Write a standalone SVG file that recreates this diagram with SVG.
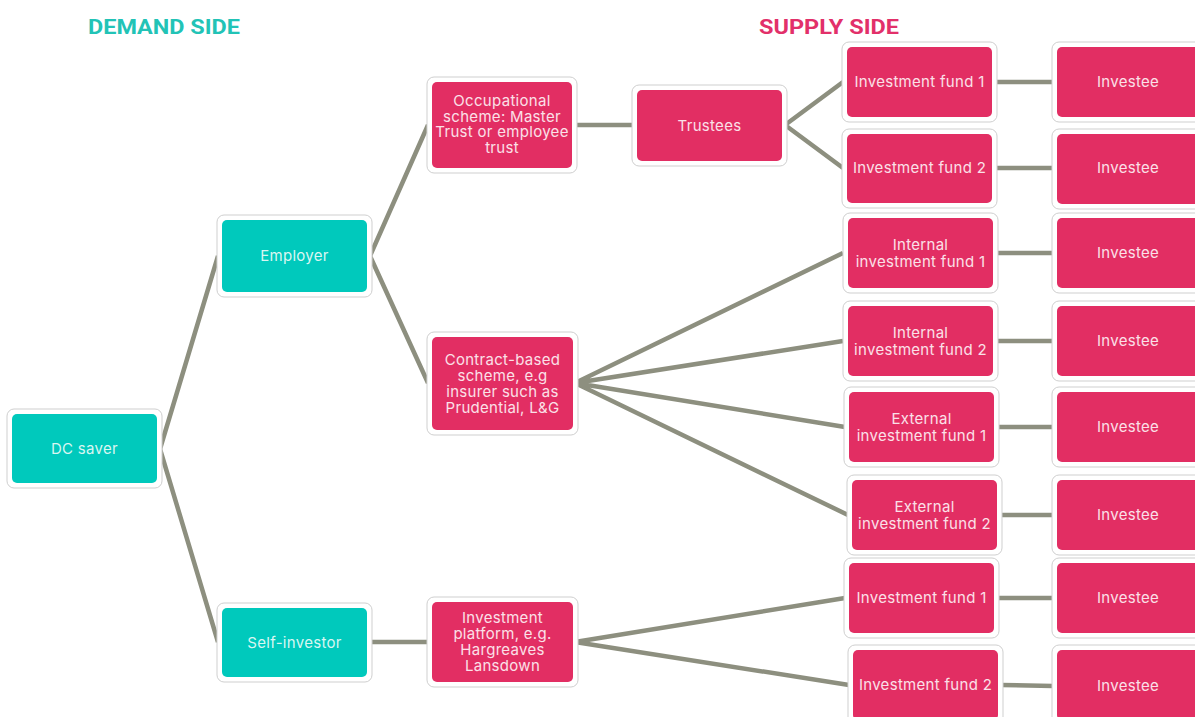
<svg xmlns="http://www.w3.org/2000/svg" width="1195" height="717" viewBox="0 0 1195 717">
<style>
.o{fill:#fff;stroke:#cfcfcf;stroke-width:1}
.t{fill:#00c9bc}
.p{fill:#e22e63}
.lt{font-family:Inter,"Liberation Sans",sans-serif;font-size:15px;letter-spacing:0.3px;fill:#d9f6f2;text-anchor:middle}
.lp{font-family:Inter,"Liberation Sans",sans-serif;font-size:15px;letter-spacing:0.3px;fill:#fbe0e8;text-anchor:middle}
.c{stroke:#8d8f7f;stroke-width:4.5;fill:none;stroke-linecap:butt}
.h{font-family:Roboto,"Liberation Sans",sans-serif;font-weight:bold;font-size:21px}
</style>
<rect width="1195" height="717" fill="#fff"/>
<text class="h" x="88" y="34" fill="#22c3b6" textLength="152" lengthAdjust="spacingAndGlyphs">DEMAND SIDE</text>
<text class="h" x="759" y="34" fill="#e2306a" textLength="140" lengthAdjust="spacingAndGlyphs">SUPPLY SIDE</text>
<g id="connectors">
<path class="c" d="M160 449 L218 256 M160 449 L218 642"/>
<path class="c" d="M370 256 L428 125 M370 256 L428 383"/>
<path class="c" d="M576 125 L634 125"/>
<path class="c" d="M785 125 L843 82 M785 125 L843 168"/>
<path class="c" d="M575 383 L843 253 M575 383 L843 341 M575 383 L845 427 M575 383 L848 515"/>
<path class="c" d="M370 642 L428 642"/>
<path class="c" d="M575 642 L845 598 M575 642 L849 685"/>
<path class="c" d="M995 82 L1053 82 M995 168 L1053 168 M996 253 L1053 253 M996 341 L1053 341 M997 427 L1053 427 M1000 515 L1053 515 M997 598 L1053 598 M1001 685 L1053 686"/>
</g>
<g id="dc-saver"><rect class="o" x="7" y="409" width="155" height="79" rx="7"/><rect class="t" x="12" y="414" width="145" height="69" rx="5"/><text class="lt" x="84.5" y="453.5">DC saver</text></g>
<g id="employer"><rect class="o" x="217" y="215" width="155" height="82" rx="7"/><rect class="t" x="222" y="220" width="145" height="72" rx="5"/><text class="lt" x="294.5" y="261">Employer</text></g>
<g id="self-investor"><rect class="o" x="217" y="603" width="155" height="79" rx="7"/><rect class="t" x="222" y="608" width="145" height="69" rx="5"/><text class="lt" x="294.5" y="647.5">Self-investor</text></g>
<g id="occupational"><rect class="o" x="427" y="77" width="150" height="96" rx="7"/><rect class="p" x="432" y="82" width="140" height="86" rx="5"/><text class="lp" x="502" y="106"><tspan x="502">Occupational</tspan><tspan x="502" dy="15.7">scheme: Master</tspan><tspan x="502" dy="15.7">Trust or employee</tspan><tspan x="502" dy="15.7">trust</tspan></text></g>
<g id="contract"><rect class="o" x="427" y="332" width="151" height="103" rx="7"/><rect class="p" x="432" y="337" width="141" height="93" rx="5"/><text class="lp" x="502.5" y="365"><tspan x="502.5">Contract-based</tspan><tspan x="502.5" dy="16">scheme, e.g</tspan><tspan x="502.5" dy="16">insurer such as</tspan><tspan x="502.5" dy="16">Prudential, L&amp;G</tspan></text></g>
<g id="platform"><rect class="o" x="427" y="597" width="151" height="90" rx="7"/><rect class="p" x="432" y="602" width="141" height="80" rx="5"/><text class="lp" x="502.5" y="623"><tspan x="502.5">Investment</tspan><tspan x="502.5" dy="16">platform, e.g.</tspan><tspan x="502.5" dy="16">Hargreaves</tspan><tspan x="502.5" dy="16">Lansdown</tspan></text></g>
<g id="trustees"><rect class="o" x="632" y="85" width="155" height="81" rx="7"/><rect class="p" x="637" y="90" width="145" height="71" rx="5"/><text class="lp" x="709.5" y="130.5">Trustees</text></g>
<g id="fund-1"><rect class="o" x="842" y="42" width="155" height="80" rx="7"/><rect class="p" x="847" y="47" width="145" height="70" rx="5"/><text class="lp" x="919.5" y="87">Investment fund 1</text></g>
<g id="fund-2"><rect class="o" x="842" y="129" width="155" height="79" rx="7"/><rect class="p" x="847" y="134" width="145" height="69" rx="5"/><text class="lp" x="919.5" y="173">Investment fund 2</text></g>
<g id="internal-1"><rect class="o" x="843" y="213" width="155" height="80" rx="7"/><rect class="p" x="848" y="218" width="145" height="70" rx="5"/><text class="lp" x="920.5" y="250"><tspan x="920.5">Internal</tspan><tspan x="920.5" dy="16.5">investment fund 1</tspan></text></g>
<g id="internal-2"><rect class="o" x="843" y="301" width="155" height="80" rx="7"/><rect class="p" x="848" y="306" width="145" height="70" rx="5"/><text class="lp" x="920.5" y="338"><tspan x="920.5">Internal</tspan><tspan x="920.5" dy="16.5">investment fund 2</tspan></text></g>
<g id="external-1"><rect class="o" x="844" y="387" width="155" height="80" rx="7"/><rect class="p" x="849" y="392" width="145" height="70" rx="5"/><text class="lp" x="921.5" y="424"><tspan x="921.5">External</tspan><tspan x="921.5" dy="16.5">investment fund 1</tspan></text></g>
<g id="external-2"><rect class="o" x="847" y="475" width="155" height="80" rx="7"/><rect class="p" x="852" y="480" width="145" height="70" rx="5"/><text class="lp" x="924.5" y="512"><tspan x="924.5">External</tspan><tspan x="924.5" dy="16.5">investment fund 2</tspan></text></g>
<g id="platform-fund-1"><rect class="o" x="844" y="558" width="155" height="80" rx="7"/><rect class="p" x="849" y="563" width="145" height="70" rx="5"/><text class="lp" x="921.5" y="603">Investment fund 1</text></g>
<g id="platform-fund-2"><rect class="o" x="848" y="645" width="155" height="80" rx="7"/><rect class="p" x="853" y="650" width="145" height="70" rx="5"/><text class="lp" x="925.5" y="690">Investment fund 2</text></g>
<g id="investee-1"><rect class="o" x="1052" y="42" width="155" height="80" rx="7"/><rect class="p" x="1057" y="47" width="145" height="70" rx="5"/><text class="lp" x="1128" y="87">Investee</text></g>
<g id="investee-2"><rect class="o" x="1052" y="129" width="155" height="80" rx="7"/><rect class="p" x="1057" y="134" width="145" height="70" rx="5"/><text class="lp" x="1128" y="173">Investee</text></g>
<g id="investee-3"><rect class="o" x="1052" y="213" width="155" height="80" rx="7"/><rect class="p" x="1057" y="218" width="145" height="70" rx="5"/><text class="lp" x="1128" y="258">Investee</text></g>
<g id="investee-4"><rect class="o" x="1052" y="301" width="155" height="80" rx="7"/><rect class="p" x="1057" y="306" width="145" height="70" rx="5"/><text class="lp" x="1128" y="346">Investee</text></g>
<g id="investee-5"><rect class="o" x="1052" y="387" width="155" height="80" rx="7"/><rect class="p" x="1057" y="392" width="145" height="70" rx="5"/><text class="lp" x="1128" y="432">Investee</text></g>
<g id="investee-6"><rect class="o" x="1052" y="475" width="155" height="80" rx="7"/><rect class="p" x="1057" y="480" width="145" height="70" rx="5"/><text class="lp" x="1128" y="520">Investee</text></g>
<g id="investee-7"><rect class="o" x="1052" y="558" width="155" height="80" rx="7"/><rect class="p" x="1057" y="563" width="145" height="70" rx="5"/><text class="lp" x="1128" y="603">Investee</text></g>
<g id="investee-8"><rect class="o" x="1052" y="645" width="155" height="80" rx="7"/><rect class="p" x="1057" y="650" width="145" height="70" rx="5"/><text class="lp" x="1128" y="691">Investee</text></g>
</svg>
